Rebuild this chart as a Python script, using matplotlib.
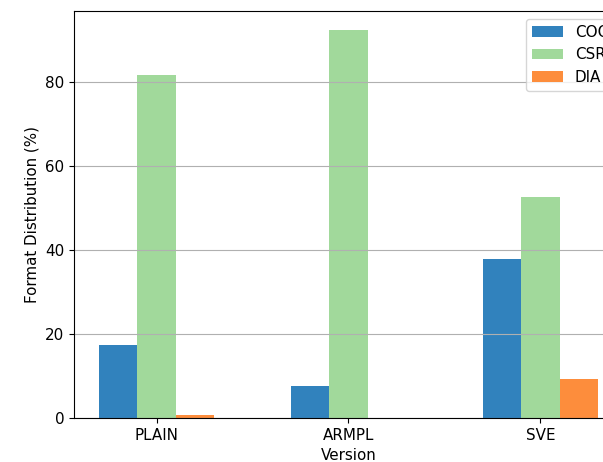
import numpy as np
import matplotlib.pyplot as plt

versions = ['PLAIN', 'ARMPL', 'SVE']
formats = ['COO', 'CSR', 'DIA']
coo = [17.4, 7.6, 37.9]
csr = [81.8, 92.4, 52.7]
dia = [0.7, 0.0, 9.4]
colors = ['#3182bd', '#a1d99b', '#fd8d3c']

plt.rcParams['font.size'] = 10.9

fig = plt.figure(figsize=(6.03, 4.62), dpi=100)
# axes runs past the right edge of the canvas
ax = fig.add_axes([74 / 603, 44 / 462, 549 / 603, 407 / 462])

x = np.arange(len(versions))
width = 0.2
for i, (name, vals) in enumerate(zip(formats, [coo, csr, dia])):
    ax.bar(x + (i - 1) * width, vals, width, label=name, color=colors[i])

ax.set_xticks(x)
ax.set_xticklabels(versions)
ax.set_xlabel('Version')
ax.set_ylabel('Format Distribution (%)')
ax.grid(axis='y')
ax.legend(loc='upper right')

fig.savefig('out.png', dpi=100)
